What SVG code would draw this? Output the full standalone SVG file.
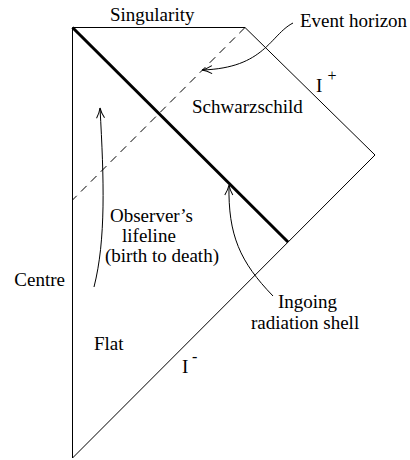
<svg xmlns="http://www.w3.org/2000/svg" width="410" height="460" viewBox="0 0 410 460">
  <style>
    .ln { fill: none; stroke: #000; stroke-width: 1; }
    .thick { fill: none; stroke: #000; stroke-width: 3; }
    .dash { fill: none; stroke: #000; stroke-width: 1; stroke-dasharray: 8 6; }
    .arr { fill: none; stroke: #000; stroke-width: 1; marker-end: url(#open); }
    text { font-family: "Liberation Serif", "Times New Roman", serif; font-size: 19px; fill: #000; }
    .sup { font-size: 16px; }
  </style>
  <defs>
    <marker id="open" viewBox="0 0 12 10" refX="11" refY="5" markerWidth="12" markerHeight="10" markerUnits="userSpaceOnUse" orient="auto">
      <path d="M1,1 Q6,4 11,5 Q6,6 1,9" fill="none" stroke="#000" stroke-width="1"/>
    </marker>
  </defs>
  <rect width="410" height="460" fill="#fff"/>

  <g id="spacetime">
    <path class="ln" d="M72.5,458 L72.5,27.5 L245,27.5 L375,155 L72.5,458"/>
    <line id="shell" class="thick" x1="72.5" y1="27.5" x2="288" y2="242"/>
    <line id="horizon" class="dash" x1="245" y1="27.5" x2="72.5" y2="200"/>
  </g>

  <g id="labels">
    <text id="singularity" x="110" y="21">Singularity</text>
    <text id="event-horizon" x="300" y="27">Event horizon</text>
    <text id="schwarzschild" x="192" y="113">Schwarzschild</text>
    <g id="scri-plus"><text x="316" y="92">I</text><text class="sup" x="327.5" y="81">+</text></g>
    <g id="observer">
      <text x="110" y="222">Observer’s</text>
      <text x="122" y="242">lifeline</text>
      <text x="105" y="262">(birth to death)</text>
    </g>
    <text id="centre" x="65" y="286" text-anchor="end">Centre</text>
    <g id="ingoing">
      <text x="278" y="308">Ingoing</text>
      <text x="251" y="329">radiation shell</text>
    </g>
    <text id="flat" x="94" y="350">Flat</text>
    <g id="scri-minus"><text x="182" y="373">I</text><text class="sup" x="192" y="362">-</text></g>
  </g>

  <g id="connectors">
    <path class="arr" d="M293,23 C270,35 265,68 202,70"/>
    <path class="arr" d="M94,287 C106,240 104,180 100,108"/>
    <path class="arr" d="M273,296 C240,262 228,235 229,185"/>
  </g>
</svg>
